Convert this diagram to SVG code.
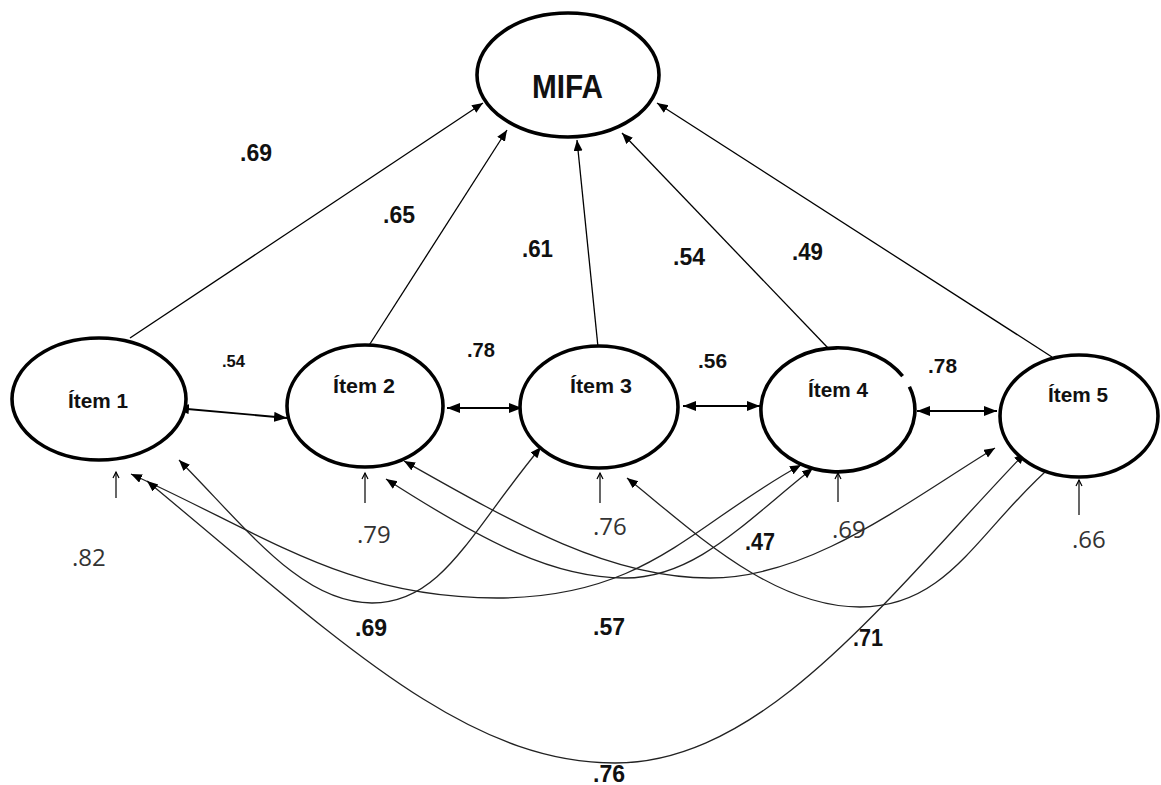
<svg xmlns="http://www.w3.org/2000/svg" width="1161" height="785" viewBox="0 0 1161 785">
<defs>
<marker id="ah" markerUnits="userSpaceOnUse" markerWidth="12" markerHeight="10" refX="11" refY="4.5" orient="auto-start-reverse" viewBox="0 0 12 10">
<path d="M0,0 L11,4.5 L0,9 z" fill="#000"/>
</marker>
<marker id="ahb" markerUnits="userSpaceOnUse" markerWidth="14" markerHeight="11" refX="13" refY="5" orient="auto-start-reverse" viewBox="0 0 14 11">
<path d="M0,0 L13,5 L0,10 z" fill="#000"/>
</marker>
<marker id="ao" markerUnits="userSpaceOnUse" markerWidth="10" markerHeight="10" refX="8" refY="4" orient="auto" viewBox="0 0 10 10">
<path d="M2,1 L8,4 L2,7" fill="none" stroke="#000" stroke-width="1.2"/>
</marker>
</defs>
<style>
.node{fill:#fff;stroke:#000;stroke-width:3.6}
.lbl{font-family:"Liberation Sans",Arial,sans-serif;font-weight:bold;fill:#111}
.num{font-family:"Liberation Sans",Arial,sans-serif;font-weight:bold;fill:#111;font-size:24px}
.mid{font-family:"Liberation Sans",Arial,sans-serif;font-weight:bold;fill:#111;font-size:21px}
.err{font-family:"Open Sans","Liberation Sans",sans-serif;fill:#333;font-size:24px}
.path{fill:none;stroke:#000;stroke-width:1.3;marker-end:url(#ah)}
.cov{fill:none;stroke:#000;stroke-width:1.8;marker-start:url(#ahb);marker-end:url(#ahb)}
.curve{fill:none;stroke:#222;stroke-width:1.3;marker-start:url(#ah);marker-end:url(#ah)}
.eps{fill:none;stroke:#000;stroke-width:1.2;marker-end:url(#ao)}
</style>
<rect width="1161" height="785" fill="#fff"/>

<g id="connectors">
<line class="path" x1="130" y1="338" x2="483" y2="103"/>
<line class="path" x1="368" y1="347" x2="507" y2="130"/>
<line class="path" x1="598" y1="347" x2="577" y2="140"/>
<line class="path" x1="828" y1="348" x2="622" y2="133"/>
<line class="path" x1="1052" y1="357" x2="657" y2="103"/>

<line class="cov" x1="176" y1="408" x2="287" y2="418"/>
<line class="cov" x1="447" y1="408" x2="522" y2="408"/>
<line class="cov" x1="683" y1="406" x2="760" y2="406"/>
<line class="cov" x1="917" y1="411" x2="997" y2="411"/>

<path class="curve" d="M179,460 C249,531 302,603 372,603 S469,534 541,447"/>
<path class="curve" d="M131,474 C268,536 347,598 497,598 S694,523 801,465"/>
<path class="curve" d="M147,481 C340,641 465,763 615,763 S887,597 1025,453"/>
<path class="curve" d="M386,479 C487,544 555,578 625,578 S745,522 813,468"/>
<path class="curve" d="M404,461 C517,525 610,578 710,578 S905,503 995,448"/>
<path class="curve" d="M627,478 C690,528 770,607 860,607 S979,528 1055,463"/>

<line class="eps" x1="116" y1="498" x2="116" y2="472"/>
<line class="eps" x1="365" y1="503" x2="365" y2="473"/>
<line class="eps" x1="600" y1="503" x2="600" y2="473"/>
<line class="eps" x1="838" y1="502" x2="838" y2="473"/>
<line class="eps" x1="1079" y1="515" x2="1079" y2="480"/>
</g>

<g id="node-mifa">
<ellipse class="node" cx="568" cy="75" rx="91" ry="62"/>
<text class="lbl" x="532" y="98" font-size="34" textLength="71" lengthAdjust="spacingAndGlyphs">MIFA</text>
</g>
<g id="node-item1">
<ellipse class="node" cx="99" cy="399" rx="87" ry="61"/>
<text class="lbl" x="68" y="408" font-size="20" textLength="60" lengthAdjust="spacingAndGlyphs">Ítem 1</text>
</g>
<g id="node-item2">
<ellipse class="node" cx="365" cy="406" rx="78" ry="61"/>
<text class="lbl" x="333" y="393" font-size="20" textLength="62" lengthAdjust="spacingAndGlyphs">Ítem 2</text>
</g>
<g id="node-item3">
<ellipse class="node" cx="599" cy="407" rx="79" ry="61"/>
<text class="lbl" x="570" y="393" font-size="20" textLength="62" lengthAdjust="spacingAndGlyphs">Ítem 3</text>
</g>
<g id="node-item4">
<path class="node" d="M909.4,386.8 A77,62 0 1,1 902.6,376.2"/>
<text class="lbl" x="808" y="397" font-size="20" textLength="60" lengthAdjust="spacingAndGlyphs">Ítem 4</text>
</g>
<g id="node-item5">
<ellipse class="node" cx="1079" cy="416" rx="79" ry="61"/>
<text class="lbl" x="1048" y="402" font-size="20" textLength="60" lengthAdjust="spacingAndGlyphs">Ítem 5</text>
</g>

<g id="labels">
<text class="num" x="240" y="161" textLength="32" lengthAdjust="spacingAndGlyphs">.69</text>
<text class="num" x="383" y="223" textLength="32" lengthAdjust="spacingAndGlyphs">.65</text>
<text class="num" x="522" y="257" textLength="31" lengthAdjust="spacingAndGlyphs">.61</text>
<text class="num" x="673" y="265" textLength="32" lengthAdjust="spacingAndGlyphs">.54</text>
<text class="num" x="792" y="260" textLength="31" lengthAdjust="spacingAndGlyphs">.49</text>
<text class="num" x="745" y="550" textLength="30" lengthAdjust="spacingAndGlyphs">.47</text>
<text class="num" x="355" y="636" textLength="32" lengthAdjust="spacingAndGlyphs">.69</text>
<text class="num" x="593" y="635" textLength="32" lengthAdjust="spacingAndGlyphs">.57</text>
<text class="num" x="853" y="646" textLength="30" lengthAdjust="spacingAndGlyphs">.71</text>
<text class="num" x="593" y="782" textLength="32" lengthAdjust="spacingAndGlyphs">.76</text>

<text class="lbl" x="222" y="367" font-size="16" textLength="23" lengthAdjust="spacingAndGlyphs">.54</text>
<text class="mid" x="467" y="357" textLength="28" lengthAdjust="spacingAndGlyphs">.78</text>
<text class="mid" x="698" y="368" textLength="29" lengthAdjust="spacingAndGlyphs">.56</text>
<text class="mid" x="928" y="373" textLength="29" lengthAdjust="spacingAndGlyphs">.78</text>

<text class="err" x="72" y="566">.82</text>
<text class="err" x="357" y="543">.79</text>
<text class="err" x="593" y="535">.76</text>
<text class="err" x="832" y="538">.69</text>
<text class="err" x="1072" y="548">.66</text>
</g>
</svg>
